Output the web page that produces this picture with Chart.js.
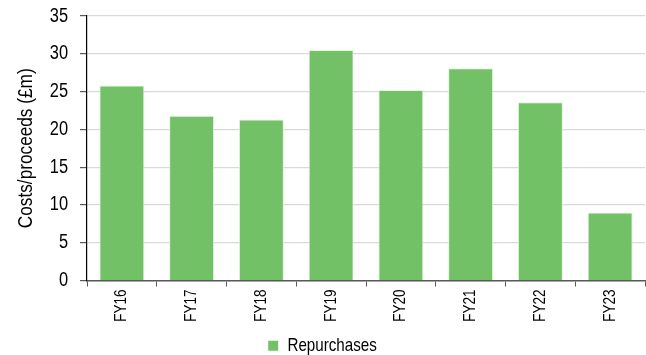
<!DOCTYPE html>
<html>
<head>
<meta charset="utf-8">
<script src="https://cdn.jsdelivr.net/npm/chart.js@4/dist/chart.umd.min.js"></script>
<style>
  html, body { margin: 0; padding: 0; background: #fff; }
  #wrap { width: 646px; height: 355px; }
</style>
</head>
<body>
<div id="wrap"><canvas id="c" width="646" height="355"></canvas></div>
<script>
// Share repurchase costs by financial year
const categories = ['FY16', 'FY17', 'FY18', 'FY19', 'FY20', 'FY21', 'FY22', 'FY23'];
const repurchases = [25.8, 21.8, 21.3, 30.5, 25.2, 28.1, 23.6, 9.0];
const yTicks = [0, 5, 10, 15, 20, 25, 30, 35];

const FONT = '"Liberation Sans", Arial, sans-serif';
const BAR_GREEN = '#73C167';

// Narrow-face text: squeeze glyphs horizontally along the text direction
// and report the squeezed widths so the layout stays consistent.
const canvas = document.getElementById('c');
const ctx2d = canvas.getContext('2d');
const SQUEEZE = 0.82;
const baseFillText = ctx2d.fillText.bind(ctx2d);
const baseMeasure = ctx2d.measureText.bind(ctx2d);
ctx2d.fillText = function (text, x, y, maxWidth) {
  this.save();
  this.translate(x, y);
  this.scale(SQUEEZE, 1);
  baseFillText(text, 0, 0);
  this.restore();
};
ctx2d.measureText = function (text) {
  const m = baseMeasure(text);
  return {
    width: m.width * SQUEEZE,
    actualBoundingBoxLeft: m.actualBoundingBoxLeft * SQUEEZE,
    actualBoundingBoxRight: m.actualBoundingBoxRight * SQUEEZE,
    actualBoundingBoxAscent: m.actualBoundingBoxAscent,
    actualBoundingBoxDescent: m.actualBoundingBoxDescent,
    fontBoundingBoxAscent: m.fontBoundingBoxAscent,
    fontBoundingBoxDescent: m.fontBoundingBoxDescent
  };
};

new Chart(canvas, {
  type: 'bar',
  data: {
    labels: categories,
    datasets: [{
      label: 'Repurchases',
      data: repurchases,
      backgroundColor: BAR_GREEN,
      borderColor: 'rgba(225,245,220,0.9)',
      borderWidth: 1,
      barPercentage: 0.645,
      categoryPercentage: 1
    }]
  },
  options: {
    responsive: false,
    animation: false,
    layout: { padding: { top: 16, right: 1, left: 0, bottom: -10 } },
    plugins: {
      legend: {
        position: 'bottom',
        labels: {
          font: { family: FONT, size: 18.5 },
          color: '#000',
          boxWidth: 10,
          boxHeight: 10,
          padding: 4,
          generateLabels: () => [{
            text: 'Repurchases',
            fillStyle: BAR_GREEN,
            strokeStyle: BAR_GREEN,
            lineWidth: 0,
            datasetIndex: 0
          }]
        }
      },
      tooltip: { enabled: false }
    },
    scales: {
      x: {
        offset: true,
        grid: {
          display: true,
          offset: true,
          drawOnChartArea: false,
          tickLength: 6,
          tickColor: '#595959'
        },
        border: { color: '#595959', width: 1.5 },
        ticks: {
          minRotation: 90,
          maxRotation: 90,
          padding: 3,
          color: '#000',
          font: { family: FONT, size: 16.5 }
        },
        afterFit: (s) => { s.height = 52; s.paddingTop = 0; s.paddingBottom = 0; }
      },
      y: {
        min: 0,
        max: 35,
        afterBuildTicks: (s) => { s.ticks = yTicks.map(v => ({ value: v })); },
        grid: {
          color: '#d9d9d9',
          lineWidth: 1.2,
          tickLength: 7,
          tickColor: '#595959'
        },
        border: { color: '#000', width: 1.2 },
        ticks: {
          padding: 12,
          color: '#000',
          font: { family: FONT, size: 20 }
        },
        title: {
          display: true,
          text: 'Costs/proceeds (£m)',
          color: '#000',
          font: { family: FONT, size: 21 },
          padding: { top: 14, bottom: 0 }
        },
        afterFit: (s) => { s.width = 87; s.paddingTop = 0; s.paddingBottom = 0; }
      }
    }
  }
});
</script>
</body>
</html>
